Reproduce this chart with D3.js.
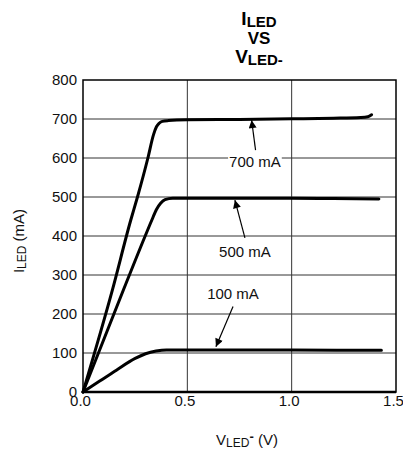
<!DOCTYPE html>
<html><head><meta charset="utf-8">
<script src="https://cdn.jsdelivr.net/npm/d3@7"></script>
<style>
body{margin:0;background:#fff;}
svg{display:block;font-family:"Liberation Sans",Arial,sans-serif;}
</style></head>
<body>
<svg id="chart" width="403" height="455"></svg>
<script>
// ---- data ----
const xTicks = [0, 0.5, 1.0, 1.5];
const xTickLabels = ["0.0", "0.5", "1.0", "1.5"];
const yTicks = [0, 100, 200, 300, 400, 500, 600, 700, 800];

const v700 = [0, 0.141, 0.229, 0.261, 0.311, 0.338, 0.352, 0.365, 0.38, 0.41, 0.5, 0.75, 1.0, 1.2, 1.33, 1.365, 1.383];
const i700 = [0, 262, 441, 500, 600, 660, 680, 689, 694, 696, 698, 699, 700.5, 702, 704, 706, 711];

const v500 = [0, 0.194, 0.298, 0.330, 0.352, 0.372, 0.393, 0.43, 0.5, 1.0, 1.2, 1.418];
const i500 = [0, 262, 400, 441, 468, 484, 493, 497, 497, 497, 496, 495];

const v100 = [0, 0.08, 0.16, 0.25, 0.30, 0.35, 0.40, 0.5, 1.0, 1.43];
const i100 = [0, 28, 56, 86, 98, 105, 108, 108, 107.5, 107];

const annLabels = ["700 mA", "500 mA", "100 mA"];
const annLabelX = [0.824, 0.776, 0.719];
const annLabelY = [577, 347, 238];
const annTailX = [0.827, 0.776, 0.719];
const annTailY = [620, 395, 219];
const annTipX = [0.808, 0.728, 0.637];
const annTipY = [697, 492, 116];

// ---- drawing ----
const svg = d3.select("#chart");
const x = d3.scaleLinear().domain([0, 1.5]).range([83, 396]);
const y = d3.scaleLinear().domain([0, 800]).range([392, 80]);

svg.append("defs").append("marker")
  .attr("id", "arr").attr("viewBox", "0 0 10 10")
  .attr("refX", 10).attr("refY", 5)
  .attr("markerWidth", 11).attr("markerHeight", 8)
  .attr("markerUnits", "userSpaceOnUse")
  .attr("orient", "auto")
  .append("path").attr("d", "M0,0 L10,5 L0,10 Z").attr("fill", "#000");

// grid
const g = svg.append("g");
g.selectAll("line.h").data(yTicks.filter(d => d > 0 && d < 800)).join("line")
  .attr("x1", x(0)).attr("x2", x(1.5))
  .attr("y1", d => y(d)).attr("y2", d => y(d))
  .attr("stroke", "#333").attr("stroke-width", 1);
g.selectAll("line.v").data(xTicks.filter(d => d > 0 && d < 1.5)).join("line")
  .attr("x1", d => x(d)).attr("x2", d => x(d))
  .attr("y1", y(0)).attr("y2", y(800))
  .attr("stroke", "#333").attr("stroke-width", 1);

// frame
svg.append("rect").attr("x", x(0)).attr("y", y(800))
  .attr("width", x(1.5) - x(0)).attr("height", y(0) - y(800))
  .attr("fill", "none").attr("stroke", "#000").attr("stroke-width", 1.5);
svg.append("line").attr("x1", x(0)).attr("x2", x(1.5)).attr("y1", y(0)).attr("y2", y(0))
  .attr("stroke", "#000").attr("stroke-width", 2.5);

// axes (labels only)
const yAxis = svg.append("g").attr("transform", `translate(${x(0)},0)`)
  .call(d3.axisLeft(y).tickValues(yTicks).tickSize(0).tickPadding(6));
const xAxis = svg.append("g").attr("transform", `translate(-3,${y(0)})`)
  .call(d3.axisBottom(x).tickValues(xTicks).tickFormat((d, i) => xTickLabels[i]).tickSize(0).tickPadding(3));
[yAxis, xAxis].forEach(a => {
  a.select(".domain").remove();
  a.selectAll("text").attr("font-size", 15).attr("fill", "#111")
    .attr("font-family", "Liberation Sans, Arial, sans-serif");
});

// curves
const line = d3.line().x(d => x(d[0])).y(d => y(d[1])).curve(d3.curveMonotoneX);
[[v700, i700], [v500, i500], [v100, i100]].forEach(([vs, is]) => {
  svg.append("path").datum(vs.map((v, i) => [v, is[i]]))
    .attr("d", line).attr("fill", "none").attr("stroke", "#000")
    .attr("stroke-width", 3).attr("stroke-linecap", "round").attr("stroke-linejoin", "round");
});

// annotations
annLabels.forEach((lab, i) => {
  const t = svg.append("text").attr("x", x(annLabelX[i])).attr("y", y(annLabelY[i]))
    .attr("text-anchor", "middle").attr("font-size", 15).attr("fill", "#111").text(lab);
  const bb = t.node().getBBox();
  svg.insert("rect", () => t.node()).attr("x", bb.x - 1).attr("y", bb.y + 2)
    .attr("width", bb.width + 2).attr("height", bb.height - 4).attr("fill", "#fff");
  svg.append("line")
    .attr("x1", x(annTailX[i])).attr("y1", y(annTailY[i]))
    .attr("x2", x(annTipX[i])).attr("y2", y(annTipY[i]))
    .attr("stroke", "#000").attr("stroke-width", 1.2).attr("marker-end", "url(#arr)");
});

// title
const title = svg.append("g").attr("font-weight", "bold").attr("fill", "#000").attr("text-anchor", "middle");
const t1 = title.append("text").attr("x", 259).attr("y", 25).attr("font-size", 19);
t1.append("tspan").text("I");
t1.append("tspan").attr("font-size", 15).attr("dy", 2).text("LED");
title.append("text").attr("x", 259).attr("y", 44).attr("font-size", 17).text("VS");
const t3 = title.append("text").attr("x", 259).attr("y", 63).attr("font-size", 19);
t3.append("tspan").text("V");
t3.append("tspan").attr("font-size", 15).attr("dy", 2).text("LED-");

// x axis title
const xt = svg.append("text").attr("x", 247).attr("y", 445).attr("text-anchor", "middle")
  .attr("font-size", 15).attr("fill", "#111");
xt.append("tspan").text("V");
xt.append("tspan").attr("font-size", 12).attr("dy", 2).text("LED");
xt.append("tspan").attr("font-weight", "bold").attr("font-size", 13).attr("dy", -6).text("-");
xt.append("tspan").attr("dy", 4).text(" (V)");

// y axis title
const yt = svg.append("text").attr("transform", "translate(24,241) rotate(-90)")
  .attr("text-anchor", "middle").attr("font-size", 15).attr("fill", "#111");
yt.append("tspan").text("I");
yt.append("tspan").attr("font-size", 12).attr("dy", 2).text("LED");
yt.append("tspan").attr("dy", -2).text(" (mA)");
</script>
</body></html>
